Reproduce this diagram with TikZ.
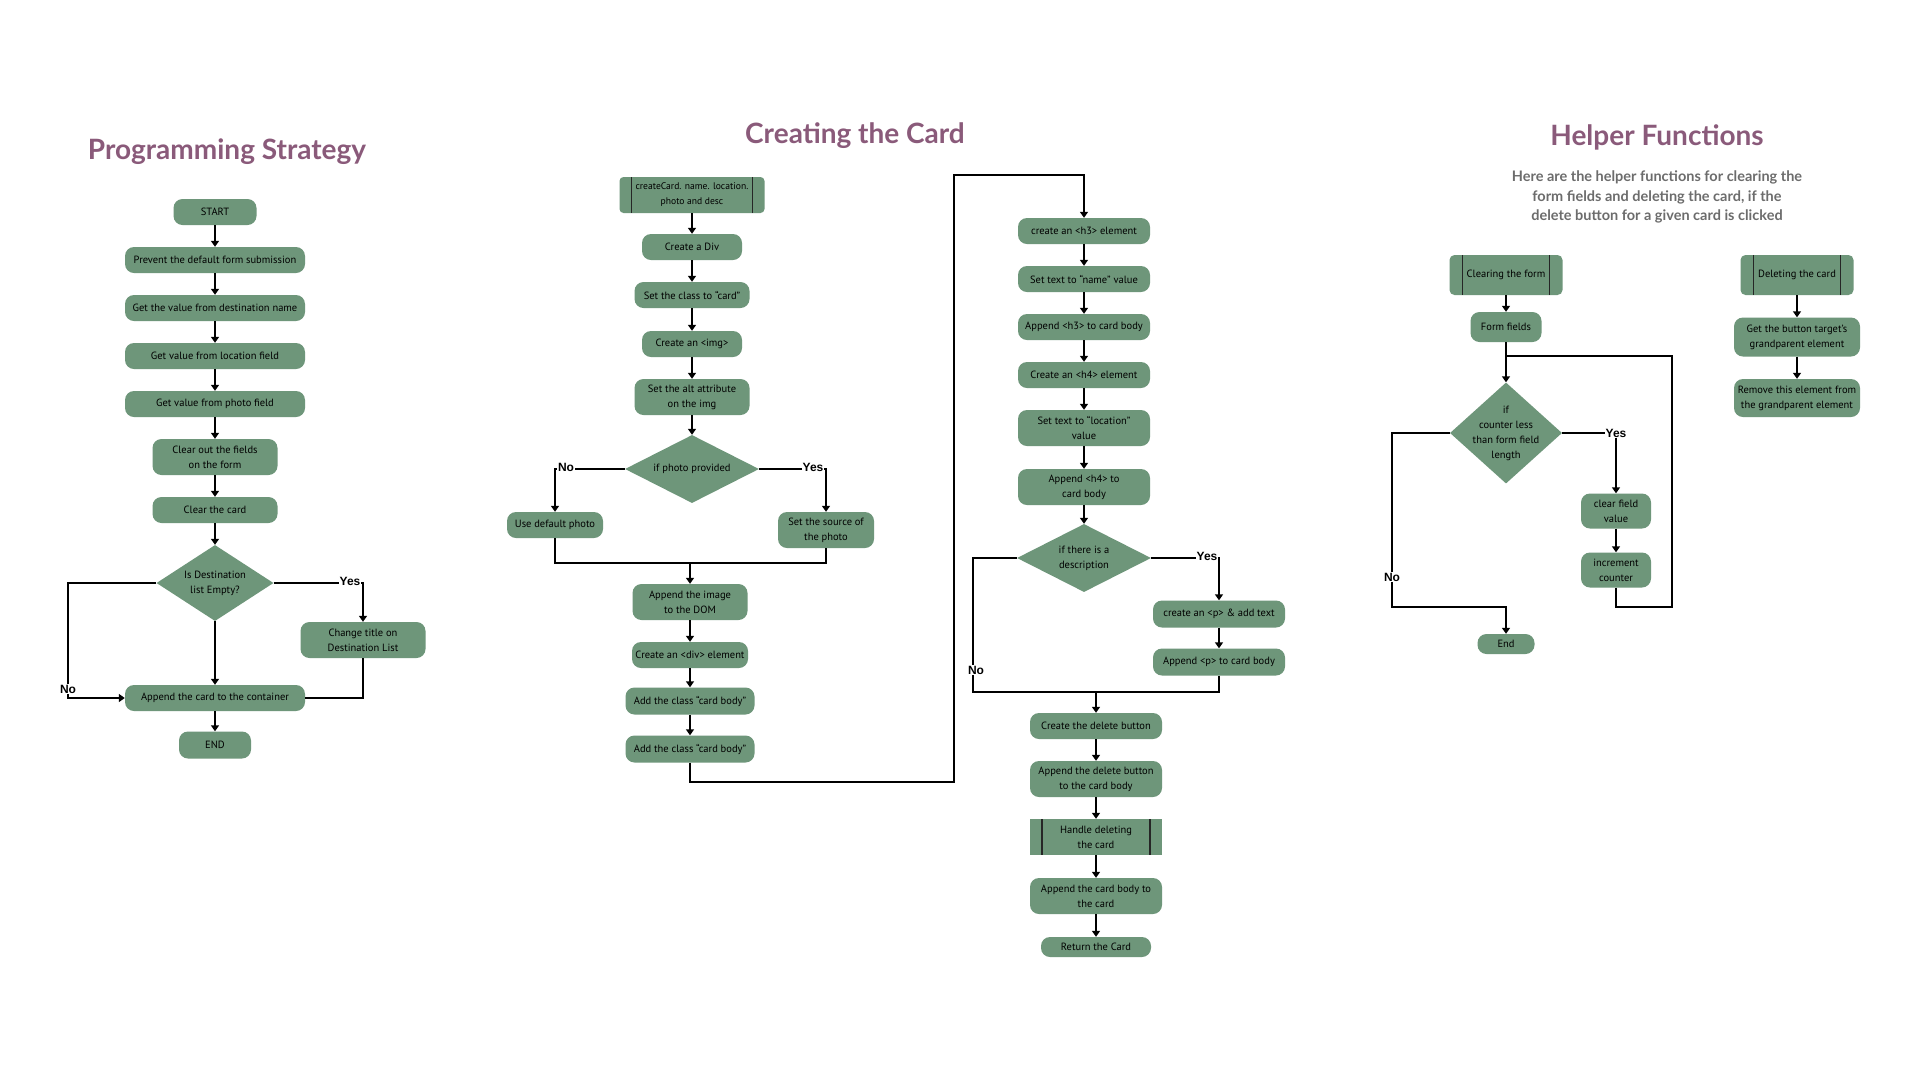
\documentclass[tikz,border=0pt]{standalone}
\usepackage{fontspec}
\setmainfont{PT Sans}
\newfontfamily\titlefont{Lato}
\newfontfamily\lblfont{Liberation Sans}
\usetikzlibrary{shapes.geometric,arrows.meta}
\definecolor{sage}{RGB}{110,150,122}
\definecolor{mauve}{RGB}{138,90,122}
\definecolor{subgray}{RGB}{108,108,108}
\tikzset{
  box/.style={fill=sage, rounded corners=9pt, minimum height=26pt, inner sep=1pt, align=center, text=black, font=\fontsize{10.5}{15}\selectfont},
  bw/.style={minimum width=#1pt},
  bh/.style={minimum height=#1pt},
  pp/.style={box, path picture={
    \draw[line width=1.4pt, black!85] ([xshift=#1]path picture bounding box.north west) -- ([xshift=#1]path picture bounding box.south west);
    \draw[line width=1.4pt, black!85] ([xshift=-#1]path picture bounding box.north east) -- ([xshift=-#1]path picture bounding box.south east);}},
  dia/.style={diamond, fill=sage, inner sep=0pt},
  dtxt/.style={align=center, inner sep=0pt, text=black, font=\fontsize{10.5}{15}\selectfont},
  arr/.style={line width=1.8pt, -{Triangle[width=8pt,length=6pt]}},
  ln/.style={line width=1.8pt},
  yn/.style={fill=white, inner sep=1pt, font=\lblfont\bfseries\fontsize{12}{12}\selectfont},
  ttl/.style={text=mauve, font=\titlefont\bfseries\fontsize{28}{30}\selectfont}
}
\begin{document}
\begin{tikzpicture}[x=1pt,y=-1pt]
\useasboundingbox (0,0) rectangle (1920,1080);
\fill[white] (0,0) rectangle (1920,1080);

% ---------------- Programming Strategy ----------------
\node[ttl] (pstitle) at (227,152) {Programming Strategy};
\node[box,bw=83] (start) at (215,212) {START};
\node[box,bw=180] (p1) at (215,260) {Prevent the default form submission};
\node[box,bw=180] (p2) at (215,308) {Get the value from destination name};
\node[box,bw=180] (p3) at (215,356) {Get value from location field};
\node[box,bw=180] (p4) at (215,404) {Get value from photo field};
\node[box,bw=125,bh=36] (p5) at (215,457) {Clear out the fields\\on the form};
\node[box,bw=125] (p6) at (215,510) {Clear the card};
\node[dia,minimum width=117pt,minimum height=76pt] (d1) at (215,583) {};
\node[dtxt] (d1t) at (d1) {Is Destination\\list Empty?};
\node[box,bw=125,bh=36] (p7) at (363,640) {Change title on\\Destination List};
\node[box,bw=180] (p8) at (215,698) {Append the card to the container};
\node[box,bw=72,bh=27] (pend) at (215,745) {END};

\foreach \a/\b in {start/p1,p1/p2,p2/p3,p3/p4,p4/p5,p5/p6,p6/d1,d1/p8,p8/pend}
  \draw[arr] (\a) -- (\b);
\coordinate (y1) at (363,583);
\draw[arr] (d1.east) -- (y1) -- (p7.north);
\node[yn] (y1l) at (350,581) {Yes};
\coordinate (n1) at (68,583);
\draw[arr] (d1.west) -- (n1) |- (p8.west);
\node[yn] (n1l) at (68,689) {No};
\draw[ln] (p7.south) |- (p8.east);

% ---------------- Creating the Card ----------------
\node[ttl] (cctitle) at (855,136) {Creating the Card};
\node[pp=12pt,rounded corners=4pt,bw=145,bh=36,font=\fontsize{9.6}{15}\selectfont] (c1) at (692,195) {createCard. name. location.\\photo and desc};
\node[box,bw=100] (c2) at (692,247) {Create a Div};
\node[box,bw=115] (c3) at (692,295) {Set the class to “card”};
\node[box,bw=100] (c4) at (692,344) {Create an <img>};
\node[box,bw=115,bh=36] (c5) at (692,397) {Set the alt attribute\\on the img};
\node[dia,minimum width=134pt,minimum height=68pt] (d2) at (692,469) {};
\node[dtxt] (d2t) at (d2) {if photo provided};
\node[box,bw=96] (c6) at (555,525) {Use default photo};
\node[box,bw=96,bh=36] (c7) at (826,530) {Set the source of\\the photo};
\node[box,bw=115,bh=36] (c8) at (690,602) {Append the image\\to the DOM};
\node[box,bw=116] (c9) at (690,655) {Create an <div> element};
\node[box,bw=129,bh=27] (c10) at (690,701) {Add the class “card body”};
\node[box,bw=129,bh=27] (c11) at (690,749) {Add the class “card body”};

\foreach \a/\b in {c1/c2,c2/c3,c3/c4,c4/c5,c5/d2,c8/c9,c9/c10,c10/c11}
  \draw[arr] (\a) -- (\b);
\draw[arr] (d2.west) -| (c6.north);
\node[yn] (n2l) at (566,467) {No};
\draw[arr] (d2.east) -| (c7.north);
\node[yn] (y2l) at (813,467) {Yes};
\coordinate (m2) at (690,563);
\draw[ln] (c6.south) |- (m2);
\draw[ln] (c7.south) |- (m2);
\draw[arr] (m2) -- (c8);
\coordinate (b1) at (954,782);
\coordinate (b2) at (954,175);

\node[box,bw=132] (h1) at (1084,231) {create an <h3> element};
\node[box,bw=132] (h2) at (1084,279) {Set text to “name” value};
\node[box,bw=132] (h3) at (1084,327) {Append <h3> to card body};
\node[box,bw=132] (h4) at (1084,375) {Create an <h4> element};
\node[box,bw=132,bh=36] (h5) at (1084,428) {Set text to “location”\\value};
\node[box,bw=132,bh=36] (h6) at (1084,487) {Append <h4> to\\card body};
\node[dia,minimum width=134pt,minimum height=68pt] (d3) at (1084,558) {};
\node[dtxt] (d3t) at (d3) {if there is a\\description};
\node[box,bw=132,bh=27] (h7) at (1219,614) {create an <p> \& add text};
\node[box,bw=132,bh=27] (h8) at (1219,662) {Append <p> to card body};
\node[box,bw=132] (h9) at (1096,726) {Create the delete button};
\node[box,bw=132,bh=36] (h10) at (1096,779) {Append the delete button\\to the card body};
\node[pp=12pt,rounded corners=0pt,bw=132,bh=36] (h11) at (1096,837) {Handle deleting\\the card};
\node[box,bw=132,bh=36] (h12) at (1096,896) {Append the card body to\\the card};
\node[box,bw=110,bh=20] (h13) at (1096,947) {Return the Card};

\draw[arr] (c11.south) |- (b1) -- (b2) -| (h1.north);
\foreach \a/\b in {h1/h2,h2/h3,h3/h4,h4/h5,h5/h6,h6/d3,h7/h8,h9/h10,h10/h11,h11/h12,h12/h13}
  \draw[arr] (\a) -- (\b);
\draw[arr] (d3.east) -| (h7.north);
\node[yn] (y3l) at (1207,556) {Yes};
\coordinate (n3) at (973,558);
\coordinate (m3) at (1096,692);
\draw[ln] (d3.west) -- (n3) |- (m3);
\node[yn] (n3l) at (976,670) {No};
\draw[ln] (h8.south) |- (m3);
\draw[arr] (m3) -- (h9);

% ---------------- Helper Functions ----------------
\node[ttl] (hftitle) at (1657,137) {Helper Functions};
\node[align=center, text=subgray, font=\titlefont\bfseries\fontsize{14.5}{19.5}\selectfont] (sub) at (1657,197)
  {Here are the helper functions for clearing the\\form fields and deleting the card, if the\\delete button for a given card is clicked};
\node[pp=13pt,rounded corners=5pt,bw=113,bh=40] (r1) at (1506,275) {Clearing the form};
\node[box,bw=71,bh=30] (r2) at (1506,327) {Form fields};
\node[dia,minimum width=112pt,minimum height=101pt] (d4) at (1506,433) {};
\node[dtxt] (d4t) at (d4) {if\\counter less\\than form field\\length};
\node[box,bw=70,bh=35] (r3) at (1616,511) {clear field\\value};
\node[box,bw=70,bh=35] (r4) at (1616,570) {increment\\counter};
\node[box,bw=57,bh=20] (r5) at (1506,644) {End};
\node[pp=13pt,rounded corners=5pt,bw=113,bh=40] (r6) at (1797,275) {Deleting the card};
\node[box,bw=126,bh=39] (r7) at (1797,337) {Get the button target’s\\grandparent element};
\node[box,bw=126,bh=38] (r8) at (1797,398) {Remove this element from\\the grandparent element};

\draw[arr] (r1) -- (r2);
\draw[arr] (r2) -- (d4);
\coordinate (l1) at (1672,607);
\coordinate (l2) at (1672,356);
\coordinate (l3) at (1506,356);
\draw[ln] (r4.south) |- (l1) -- (l2) -- (l3);
\draw[arr] (d4.east) -| (r3.north);
\node[yn] (y4l) at (1616,433) {Yes};
\draw[arr] (r3) -- (r4);
\coordinate (n4) at (1392,433);
\coordinate (n5) at (1506,607);
\draw[arr] (d4.west) -- (n4) |- (n5) -- (r5.north);
\node[yn] (n4l) at (1392,577) {No};
\draw[arr] (r6) -- (r7);
\draw[arr] (r7) -- (r8);
\end{tikzpicture}
\end{document}
